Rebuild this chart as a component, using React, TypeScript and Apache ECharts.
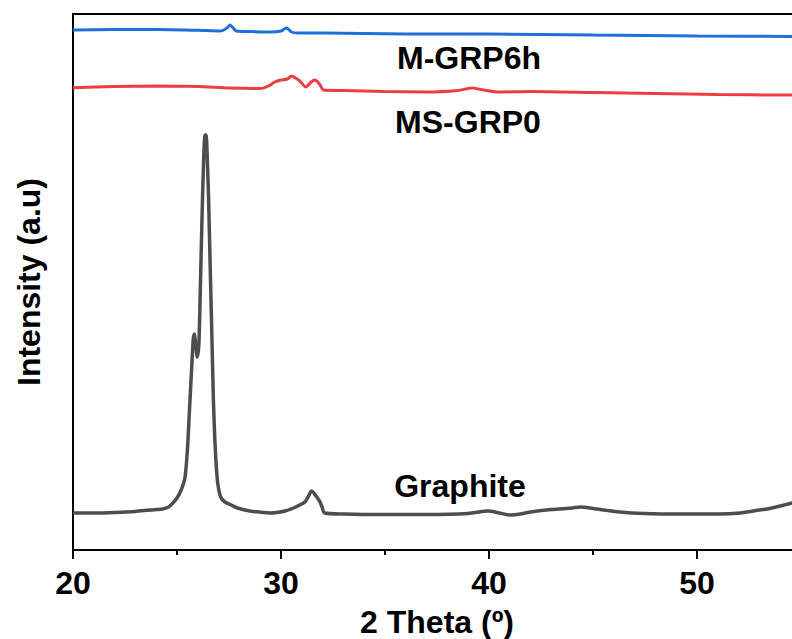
import React, { useEffect, useRef } from "react";
import * as echarts from "echarts";

// 2θ (degrees) and intensity (a.u., offset stacked)
const graphiteX = [20.0, 21.0, 22.0, 23.0, 23.7, 24.3, 24.6, 24.8, 25.0, 25.2, 25.38, 25.5, 25.6, 25.7, 25.78, 25.83, 25.9, 25.97, 26.05, 26.12, 26.2, 26.28, 26.35, 26.4, 26.45, 26.52, 26.6, 26.67, 26.75, 26.82, 26.9, 26.97, 27.1, 27.3, 27.6, 27.9, 28.5, 29.5, 30.2, 30.6, 30.9, 31.15, 31.3, 31.47, 31.65, 31.85, 31.96, 32.1, 33.0, 35.0, 37.0, 39.0, 39.95, 40.3, 41.0, 41.5, 42.0, 43.0, 44.0, 44.4, 45.0, 46.3, 47.5, 49.2, 51.0, 52.07, 53.0, 53.5, 54.0, 54.57, 55.0];
const graphiteY = [37, 37, 37.5, 38.5, 40, 41, 43, 47, 52, 60, 72, 100, 140, 180, 210, 216, 205, 193, 205, 260, 330, 390, 415, 415, 395, 350, 280, 220, 150, 110, 80, 65, 53, 48, 45, 42, 39, 37, 39, 42, 45, 48, 53, 59, 55, 49, 44, 37, 36, 35.5, 35.5, 36.5, 39, 38, 35, 36, 38, 40.5, 42, 43, 41.5, 38, 36.5, 36, 36, 37, 40, 41.5, 44, 47, 50];

const msX = [20, 22, 24, 26, 27.5, 29.0, 29.4, 29.7, 30.0, 30.3, 30.5, 30.7, 30.9, 31.2, 31.45, 31.63, 31.85, 32.05, 33, 35, 37, 38.5, 39.2, 39.6, 40.5, 42, 45, 48, 51, 54, 55];
const msY = [462.3, 463.5, 464, 463.5, 462, 461.5, 464, 468, 470, 471, 474, 472, 469, 463, 468, 470, 466, 460, 459.5, 458.5, 458, 459.5, 462, 460.5, 458, 458.5, 457.5, 456.5, 455.5, 455, 455];

const mX = [20, 22, 24, 26, 27.1, 27.4, 27.55, 27.7, 27.85, 28.5, 29.5, 30.0, 30.27, 30.5, 30.8, 32, 34, 36, 40, 45, 50, 55];
const mY = [520, 520.5, 520.5, 519.7, 519, 522, 525, 522, 519, 518.5, 518, 519, 522, 518, 517, 517, 516.5, 516, 516, 515, 514, 513.5];

const seriesNames = ["Graphite", "MS-GRP0", "M-GRP6h"];
const seriesColors = ["#4d4d4d", "#ee3c40", "#1e6edc"];

const FONT = '"Liberation Sans", Arial, sans-serif';

const zip = (xs: number[], ys: number[]) => xs.map((x, i) => [x, ys[i]]);

export default function App() {
  const ref = useRef<HTMLDivElement>(null);
  useEffect(() => {
    if (!ref.current) return;
    const chart = echarts.init(ref.current, undefined, { renderer: "svg" });
    const lineSeries = (name: string, data: number[][], color: string, width: number) => ({
      type: "line",
      name,
      data,
      showSymbol: false,
      smooth: 0.25,
      lineStyle: { color, width },
      itemStyle: { color },
      xAxisIndex: 0,
      yAxisIndex: 0,
    });
    const labelStyle = (text: string) => ({
      text,
      align: "center",
      verticalAlign: "middle",
      fontFamily: FONT,
      fontWeight: "bold",
      fontSize: 32,
      fill: "#000",
    });
    chart.setOption({
      animation: false,
      backgroundColor: "#ffffff",
      grid: { left: 73, top: 14, bottom: 89, right: -9, containLabel: false, outerBoundsMode: "none" },
      xAxis: [
        {
          type: "value",
          min: 20,
          max: 55,
          interval: 10,
          name: "2 Theta (º)",
          nameLocation: "middle",
          nameGap: 56,
          nameTextStyle: { fontFamily: FONT, fontWeight: "bold", fontSize: 32, color: "#000" },
          axisLine: { show: true, onZero: false, lineStyle: { color: "#000", width: 2 } },
          axisTick: { show: true, length: 9, lineStyle: { color: "#000", width: 2 } },
          minorTick: { show: true, splitNumber: 2, length: 5, lineStyle: { color: "#000", width: 2 } },
          axisLabel: { fontFamily: FONT, fontWeight: "bold", fontSize: 32, color: "#000", margin: 17, showMaxLabel: false },
          splitLine: { show: false },
        },
        {
          type: "value",
          position: "top",
          min: 20,
          max: 55,
          axisLine: { show: true, onZero: false, lineStyle: { color: "#000", width: 2 } },
          axisTick: { show: false },
          axisLabel: { show: false },
          splitLine: { show: false },
        },
      ],
      yAxis: {
        type: "value",
        min: 0,
        max: 536,
        name: "Intensity (a.u)",
        nameLocation: "middle",
        nameGap: 28,
        nameTextStyle: { fontFamily: FONT, fontWeight: "bold", fontSize: 32, color: "#000" },
        axisLine: { show: true, onZero: false, lineStyle: { color: "#000", width: 2 } },
        axisTick: { show: false },
        axisLabel: { show: false },
        splitLine: { show: false },
      },
      series: [
        lineSeries(seriesNames[0], zip(graphiteX, graphiteY), seriesColors[0], 3.5),
        lineSeries(seriesNames[1], zip(msX, msY), seriesColors[1], 3),
        lineSeries(seriesNames[2], zip(mX, mY), seriesColors[2], 3),
      ],
      graphic: [
        { type: "text", x: 469, y: 58, style: labelStyle("M-GRP6h") },
        { type: "text", x: 468, y: 122, style: labelStyle("MS-GRP0") },
        { type: "text", x: 460, y: 486, style: labelStyle("Graphite") },
      ],
    });
    return () => chart.dispose();
  }, []);
  return <div ref={ref} style={{ position: "fixed", left: 0, top: 0, width: 792, height: 639 }} />;
}
